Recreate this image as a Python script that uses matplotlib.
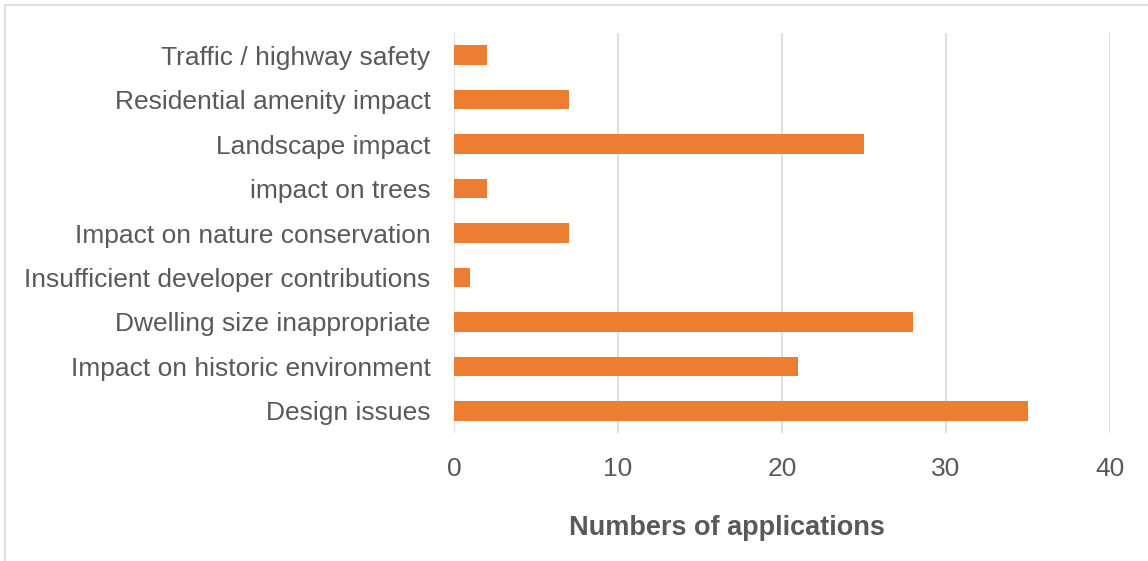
import matplotlib.pyplot as plt
from matplotlib.patches import Rectangle

plt.rcParams['font.family'] = ['Liberation Sans', 'DejaVu Sans']

reasons = ["Design issues", "Impact on historic environment", "Dwelling size inappropriate",
           "Insufficient developer contributions", "Impact on nature conservation",
           "impact on trees", "Landscape impact", "Residential amenity impact",
           "Traffic / highway safety"]
counts = [35, 21, 28, 1, 7, 2, 25, 7, 2]
xticks = [0, 10, 20, 30, 40]

grey = "#595959"
orange = "#ED7D31"

fig = plt.figure(figsize=(11.48, 5.61), dpi=100)
W, H = 1148, 561

# outer chart border (light grey)
fig.patches.append(Rectangle((5 / W, -0.1), 1.2, (H - 5) / H + 0.1, transform=fig.transFigure,
                             fill=False, edgecolor="#D9D9D9", linewidth=1.2))

ax = fig.add_axes([454 / W, 1 - 433 / H, (1110 - 454) / W, (433 - 33) / H])
ax.barh(range(len(reasons)), counts, height=0.44, color=orange, zorder=3)
ax.set_yticks(range(len(reasons)))
ax.set_yticklabels(reasons)
ax.set_ylim(-0.5, len(reasons) - 0.5)
ax.set_xlim(0, 40)
ax.set_xticks(xticks)
ax.grid(axis="x", color="#D9D9D9", linewidth=1.2, zorder=0)
for s in ax.spines.values():
    s.set_visible(False)
ax.tick_params(axis="both", length=0, colors=grey, labelsize=19)
ax.tick_params(axis="y", pad=17)
ax.tick_params(axis="x", pad=17)

fig.text(727 / W, 1 - 528 / H, "Numbers of applications", fontsize=19.5, fontweight="bold",
         color=grey, ha="center", va="center")

fig.savefig("out.png", dpi=100)
